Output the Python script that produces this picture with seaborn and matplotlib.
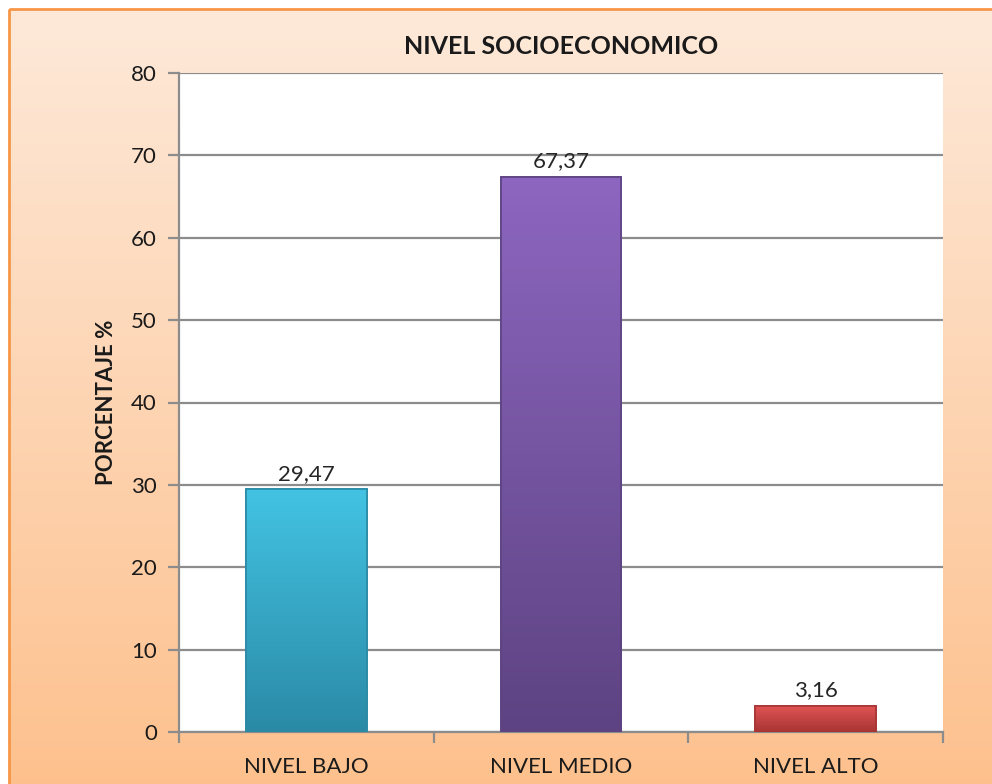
import numpy as np
import pandas as pd
import matplotlib
matplotlib.use('Agg')
import matplotlib.pyplot as plt
import matplotlib.patches as mpatches
from matplotlib.colors import LinearSegmentedColormap
import seaborn as sns

categories = ['NIVEL BAJO', 'NIVEL MEDIO', 'NIVEL ALTO']
values = [29.47, 67.37, 3.16]
top_colors = ['#43C3E3', '#8D66C0', '#E25555']
bottom_colors = ['#2A8AA6', '#5D4382', '#A83434']
yticks = [0, 10, 20, 30, 40, 50, 60, 70, 80]

sns.set_theme(style='white')
plt.rcParams['font.family'] = ['Lato', 'DejaVu Sans']

fig = plt.figure(figsize=(9.92, 7.84), dpi=100)

# background panel with peach gradient and orange frame
bg = fig.add_axes([0, 0, 1, 1], zorder=-10)
bg.set_axis_off()
bg.set_xlim(0, 992)
bg.set_ylim(784, 0)
grad = np.linspace(0, 1, 256).reshape(-1, 1)
bg_cmap = LinearSegmentedColormap.from_list('bg', ['#FDE9D9', '#FDC08C'])
bg.imshow(grad, cmap=bg_cmap, extent=[9, 1000, 800, 9], aspect='auto')
bg.add_patch(mpatches.Rectangle((9, 9), 1000, 800, fill=False,
                                edgecolor='#F79646', lw=2))

ax = fig.add_axes([179 / 992, 1 - 732 / 784, 764 / 992, 659 / 784])
df = pd.DataFrame({'nivel': categories, 'pct': values})
sns.barplot(data=df, x='nivel', y='pct', ax=ax, width=0.475,
            color='#43C3E3', saturation=1, zorder=3)

ax.set_facecolor('white')
ax.set_yticks(yticks)
ax.grid(axis='y', color='#8C8C8C', lw=1.6, zorder=0)
ax.set_axisbelow(True)

# gradient fill on each bar
for patch, c_top, c_bot in zip(ax.patches, top_colors, bottom_colors):
    x, y = patch.get_x(), patch.get_y()
    w, h = patch.get_width(), patch.get_height()
    cmap = LinearSegmentedColormap.from_list('b', [c_top, c_bot])
    img = ax.imshow(grad, cmap=cmap, extent=[x, x + w, y, y + h],
                    aspect='auto', zorder=4)
    img.set_clip_path(patch)
    patch.set_edgecolor(c_bot)
    patch.set_linewidth(1.2)
    ax.add_patch(mpatches.Rectangle((x, y), w, h, fill=False,
                                    edgecolor=c_bot, lw=1.2, zorder=5))
ax.set_aspect('auto')
ax.set_xlim(-0.5, 2.5)
ax.set_ylim(0, 80)

ax.bar_label(ax.containers[0], labels=[f'{v:.2f}'.replace('.', ',') for v in values],
             padding=4, fontsize=16, color='#262626', zorder=6)

for s in ['top', 'right']:
    ax.spines[s].set_visible(False)
for s in ['left', 'bottom']:
    ax.spines[s].set_color('#8C8C8C')
    ax.spines[s].set_linewidth(1.6)

ax.tick_params(axis='y', which='major', left=True, length=8, width=1.6,
               color='#8C8C8C', labelsize=16, labelcolor='#1A1A1A', pad=8)
ax.tick_params(axis='x', which='major', bottom=False, labelsize=16,
               labelcolor='#1A1A1A', pad=12)
ax.set_xticks([-0.5, 0.5, 1.5, 2.5], minor=True)
ax.tick_params(axis='x', which='minor', bottom=True, length=8, width=1.6,
               color='#8C8C8C')

ax.set_xlabel('')
ax.set_ylabel('PORCENTAJE %', fontsize=16, fontweight='bold', color='#1A1A1A',
              labelpad=10)
ax.set_title('NIVEL SOCIOECONOMICO', fontsize=18, fontweight='bold',
             color='#1A1A1A', pad=14)

fig.savefig('out.png', dpi=100)
